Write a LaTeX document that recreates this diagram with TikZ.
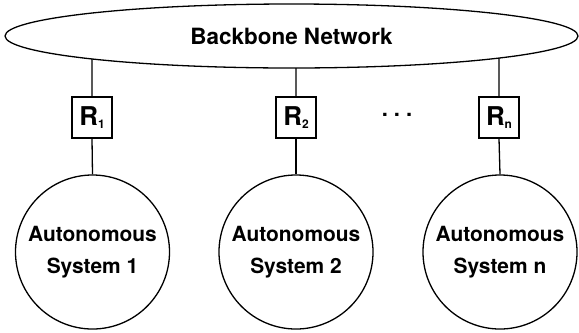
\documentclass[tikz,border=0pt]{standalone}
\usepackage{fontspec}
\setmainfont{TeX Gyre Heros}
\usetikzlibrary{shapes.geometric,intersections}
\newcommand{\subsc}[1]{\raisebox{-3bp}{\fontsize{12}{12}\selectfont #1}}
\begin{document}
\begin{tikzpicture}[x=1bp,y=-1bp,line width=1.3bp,
  net/.style={draw,ellipse,inner sep=0pt,minimum width=573bp,minimum height=64bp,font=\fontsize{22.5}{24}\selectfont\bfseries},
  router/.style={draw,rectangle,inner sep=0pt,minimum width=40bp,minimum height=41bp,font=\fontsize{26}{26}\selectfont\bfseries},
  as/.style={draw,circle,inner sep=0pt,minimum size=154bp,align=center,font=\fontsize{21}{32}\selectfont\bfseries}]
\useasboundingbox (0,0) rectangle (579,332);
\node[net,name path=bbp] (bb) at (291.5,36) {Backbone Network};
\node[router] (r1) at (92,117.5) {R\subsc{1}};
\node[router] (r2) at (296,117.5) {R\subsc{2}};
\node[router] (rn) at (499,117.5) {R\subsc{n}};
\node[font=\fontsize{22}{22}\selectfont\bfseries] (dots) at (397,115) {.\hspace{6bp}.\hspace{6bp}.};
\node[as] (a1) at (92.5,252) {Autonomous\\System 1};
\node[as] (a2) at (296,252) {Autonomous\\System 2};
\node[as] (an) at (500,252) {Autonomous\\System n};
\path[name path=v1] (r1.north) -- ++(0,-50);
\path[name path=v2] (r2.north) -- ++(0,-50);
\path[name path=vn] (rn.north) -- ++(0,-50);
\path[name intersections={of=v1 and bbp,sort by=v1,by={e1}}];
\path[name intersections={of=v2 and bbp,sort by=v2,by={e2}}];
\path[name intersections={of=vn and bbp,sort by=vn,by={en}}];
\draw (e1) -- (r1.north);
\draw (e2) -- (r2.north);
\draw (en) -- (rn.north);
\draw (r1.south) -- (a1.north);
\draw (r2.south) -- (a2.north);
\draw (rn.south) -- (an.north);
\end{tikzpicture}
\end{document}
